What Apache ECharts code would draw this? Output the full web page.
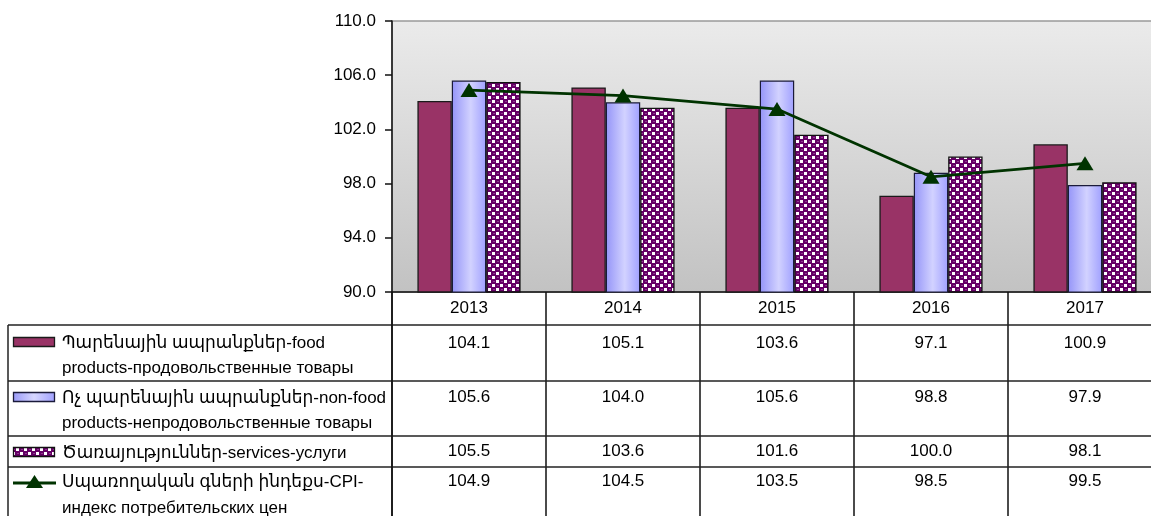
<!DOCTYPE html>
<html>
<head>
<meta charset="utf-8">
<script src="https://cdn.jsdelivr.net/npm/echarts@6/dist/echarts.min.js"></script>
<style>
html,body{margin:0;padding:0;background:#fff;}
#c{width:1151px;height:516px;}
</style>
</head>
<body>
<div id="c"></div>
<script>
// ---- data ----
const categories = ['2013', '2014', '2015', '2016', '2017'];
const foodValues = [104.1, 105.1, 103.6, 97.1, 100.9];
const nonFoodValues = [105.6, 104.0, 105.6, 98.8, 97.9];
const servicesValues = [105.5, 103.6, 101.6, 100.0, 98.1];
const cpiValues = [104.9, 104.5, 103.5, 98.5, 99.5];
const seriesNames = [
  ['Պարենային ապրանքներ-food', 'products-продовольственные товары'],
  ['Ոչ պարենային ապրանքներ-non-food', 'products-непродовольственные товары'],
  ['Ծառայություններ-services-услуги'],
  ['Սպառողական գների ինդեքս-CPI-', 'индекс потребительских цен']
];
const yMin = 90, yMax = 110, yInterval = 4;

// ---- styles ----
const FONT = "'Liberation Sans', Arial, 'DejaVu Sans', sans-serif";
const FS = 17;
const foodColor = '#993366';
const cpiColor = '#003300';

function makePattern() {
  const c = document.createElement('canvas');
  c.width = 8; c.height = 8;
  const g = c.getContext('2d');
  g.fillStyle = '#660066';
  g.fillRect(0, 0, 8, 8);
  g.fillStyle = '#8f3a8f';
  g.fillRect(1, 5, 2, 1);
  g.fillRect(5, 1, 2, 1);
  g.fillStyle = '#ffffff';
  g.fillRect(0, 0, 3, 3);
  g.fillRect(4, 4, 3, 3);
  return c;
}
const patternCanvas = makePattern();
const servicesFill = { image: patternCanvas, repeat: 'repeat' };
function nonFoodFill() {
  return new echarts.graphic.LinearGradient(0, 0, 1, 0, [
    { offset: 0, color: '#9494f8' },
    { offset: 0.55, color: '#d2d2ff' },
    { offset: 1, color: '#a0a0ff' }
  ]);
}

const chart = echarts.init(document.getElementById('c'), null, { renderer: 'canvas' });

const GRID_LEFT = 392, GRID_TOP = 21, GRID_BOTTOM_Y = 292, GRID_W = 770;

chart.setOption({
  animation: false,
  backgroundColor: '#ffffff',
  textStyle: { fontFamily: FONT },
  grid: {
    left: GRID_LEFT, top: GRID_TOP, width: GRID_W, height: GRID_BOTTOM_Y - GRID_TOP,
    outerBoundsMode: 'none',
    containLabel: false,
    show: true,
    backgroundColor: new echarts.graphic.LinearGradient(0, 0, 0, 1, [
      { offset: 0, color: '#ebebeb' },
      { offset: 1, color: '#c2c2c2' }
    ]),
    borderColor: '#9a9a9a', borderWidth: 1.5
  },
  xAxis: {
    type: 'category',
    data: categories,
    axisLine: { show: true, lineStyle: { color: '#111', width: 1.5 } },
    axisTick: { show: true, length: 516 - GRID_BOTTOM_Y, lineStyle: { color: '#111', width: 1.5 } },
    axisLabel: { color: '#000', fontSize: FS, fontFamily: FONT, margin: 8 },
    splitLine: { show: false }
  },
  yAxis: {
    type: 'value',
    min: yMin, max: yMax, interval: yInterval,
    axisLine: { show: true, lineStyle: { color: '#111', width: 1.5 } },
    axisTick: { show: true, length: 7, lineStyle: { color: '#111', width: 1.5 } },
    axisLabel: { color: '#000', fontSize: FS, fontFamily: FONT, margin: 16, formatter: v => v.toFixed(1) },
    splitLine: { show: false }
  },
  series: [
    {
      name: seriesNames[0].join(' '), type: 'bar', data: foodValues,
      barGap: '0%', barCategoryGap: '33%',
      itemStyle: { color: foodColor, borderColor: '#1a1a1a', borderWidth: 1.3 }
    },
    {
      name: seriesNames[1].join(' '), type: 'bar', data: nonFoodValues,
      barGap: '0%', barCategoryGap: '33%',
      itemStyle: { color: nonFoodFill(), borderColor: '#1a1a3a', borderWidth: 1.2 }
    },
    {
      name: seriesNames[2].join(' '), type: 'bar', data: servicesValues,
      barGap: '0%', barCategoryGap: '33%',
      itemStyle: { color: servicesFill, borderColor: '#111', borderWidth: 1.3 }
    },
    {
      name: seriesNames[3].join(' '), type: 'line', data: cpiValues,
      z: 5,
      symbol: 'triangle', symbolSize: [17, 14],
      lineStyle: { color: cpiColor, width: 2.8 },
      itemStyle: { color: cpiColor }
    }
  ]
});

// ---- data table drawn beneath the plot ----
const TABLE_LEFT = 8, TABLE_RIGHT = GRID_LEFT + GRID_W;
const rowLines = [325, 381, 436, 467];
const valueRowY = [343, 397, 451.5, 481.5];
const legendLineY = [[343, 368], [398, 423], [453], [482, 508]];
const symbolY = [342, 397, 452, 483];
const rowsData = [foodValues, nonFoodValues, servicesValues, cpiValues];

const g = [];
rowLines.forEach(y => {
  g.push({ type: 'line', shape: { x1: TABLE_LEFT, y1: y, x2: TABLE_RIGHT, y2: y },
    style: { stroke: '#222', lineWidth: 1.5 }, z: 10 });
});
g.push({ type: 'line', shape: { x1: TABLE_LEFT, y1: rowLines[0], x2: TABLE_LEFT, y2: 516 },
  style: { stroke: '#222', lineWidth: 1.5 }, z: 10 });
g.push({ type: 'line', shape: { x1: GRID_LEFT, y1: GRID_BOTTOM_Y, x2: GRID_LEFT, y2: 516 },
  style: { stroke: '#111', lineWidth: 1.5 }, z: 10 });

rowsData.forEach((vals, r) => {
  vals.forEach((v, i) => {
    const x = chart.convertToPixel({ xAxisIndex: 0 }, categories[i]);
    g.push({ type: 'text', x: x, y: valueRowY[r], z: 10,
      style: { text: v.toFixed(1), fill: '#000', font: FS + 'px ' + FONT, align: 'center', verticalAlign: 'middle' } });
  });
  seriesNames[r].forEach((line, k) => {
    g.push({ type: 'text', x: 62, y: legendLineY[r][k], z: 10,
      style: { text: line, fill: '#000', font: FS + 'px ' + FONT, align: 'left', verticalAlign: 'middle' } });
  });
});

// legend keys
g.push({ type: 'rect', shape: { x: 13.5, y: symbolY[0] - 4.5, width: 41, height: 9 }, z: 10,
  style: { fill: foodColor, stroke: '#1a1a1a', lineWidth: 1.3 } });
g.push({ type: 'rect', shape: { x: 13.5, y: symbolY[1] - 4.5, width: 41, height: 9 }, z: 10,
  style: { fill: new echarts.graphic.LinearGradient(0, 0, 1, 0, [
    { offset: 0, color: '#9a9af8' }, { offset: 0.5, color: '#d6d6ff' }, { offset: 1, color: '#a0a0ff' }]),
    stroke: '#1a1a3a', lineWidth: 1.3 } });
g.push({ type: 'rect', shape: { x: 13.5, y: symbolY[2] - 4.5, width: 41, height: 9 }, z: 10,
  style: { fill: { image: patternCanvas, repeat: 'repeat' }, stroke: '#111', lineWidth: 1.3 } });
g.push({ type: 'line', shape: { x1: 13, y1: symbolY[3], x2: 56, y2: symbolY[3] }, z: 10,
  style: { stroke: cpiColor, lineWidth: 2.8 } });
g.push({ type: 'polygon', shape: { points: [[34.5, symbolY[3] - 8], [43, symbolY[3] + 5], [26, symbolY[3] + 5]] }, z: 11,
  style: { fill: cpiColor } });

chart.setOption({ graphic: g });
</script>
</body>
</html>
